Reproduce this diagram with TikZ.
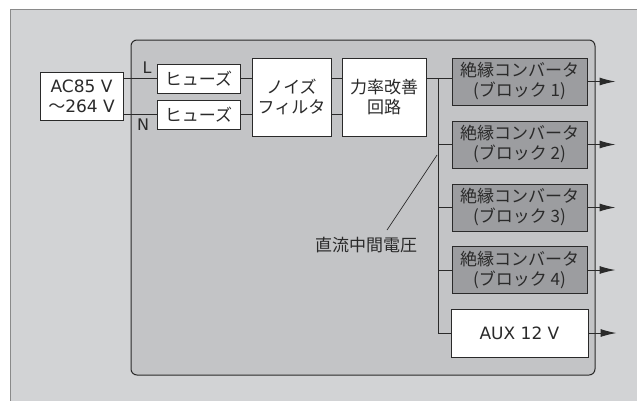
\documentclass[tikz,border=0pt]{standalone}
\usepackage{fontspec}
\setmainfont{Noto Sans CJK JP}
\newfontfamily\lat{DejaVu Sans}
\usetikzlibrary{arrows.meta}
\definecolor{outerbg}{HTML}{D2D3D5}
\definecolor{innerbg}{HTML}{C3C4C6}
\definecolor{convbg}{HTML}{9C9DA0}
\definecolor{ink}{HTML}{2A2A2A}
\definecolor{outerline}{HTML}{8A8A8A}
\tikzset{
  blk/.style={draw=ink, line width=1pt, fill=white, inner sep=0pt, align=center, text=ink,
    font=\fontsize{17}{20}\selectfont},
  conv/.style={blk, fill=convbg, minimum width=135pt, minimum height=47pt},
  wire/.style={draw=ink, line width=1pt},
  outarrow/.style={wire, -{Latex[length=16pt,width=8pt]}},
  lbl/.style={text=ink, inner sep=0pt, font=\fontsize{17}{20}\selectfont},
}
\begin{document}
\begin{tikzpicture}[x=1pt,y=-1pt]
\useasboundingbox (0,0) rectangle (637,400);
\clip (0,0) rectangle (637,400);
\fill[white] (0,0) rectangle (637,400);
\draw[fill=outerbg, draw=outerline, line width=1pt] (10,9) rectangle (650,410);
\draw[fill=innerbg, draw=ink, line width=1pt, rounded corners=6pt] (131,40) rectangle (595,375);

\node[blk, minimum width=83pt, minimum height=48pt] (ac) at (81.5,96) {{\lat\fontsize{17}{20}\selectfont AC85 V}\\〜{\lat\fontsize{17}{20}\selectfont 264 V}};
\node[blk, minimum width=83pt, minimum height=29pt] (fL) at (198.5,78.5) {ヒューズ};
\node[blk, minimum width=83pt, minimum height=29pt] (fN) at (198.5,114.5) {ヒューズ};
\node[blk, minimum width=79pt, minimum height=78pt] (nf) at (291.5,97) {ノイズ\\フィルタ};
\node[blk, minimum width=84pt, minimum height=78pt] (pfc) at (384,97) {力率改善\\回路};
\node[conv] (c1) at (519.5,81.5) {絶縁コンバータ\\(ブロック 1)};
\node[conv] (c2) at (519.5,144.5) {絶縁コンバータ\\(ブロック 2)};
\node[conv] (c3) at (519.5,207.5) {絶縁コンバータ\\(ブロック 3)};
\node[conv] (c4) at (519.5,270) {絶縁コンバータ\\(ブロック 4)};
\node[blk, minimum width=137pt, minimum height=48pt] (aux) at (519.5,333) {\lat\fontsize{17}{20}\selectfont AUX 12 V};

\node[lbl] (Ll) at (147,68) {\lat\fontsize{16}{20}\selectfont L};
\node[lbl] (Nl) at (143,125) {\lat\fontsize{16}{20}\selectfont N};
\node[lbl] (dc) at (366,245) {直流中間電圧};

% input wires
\draw[wire] (ac.east |- fL.west) -- (fL.west);
\draw[wire] (ac.east |- fN.west) -- (fN.west);
\draw[wire] (fL.east) -- (nf.west |- fL.east);
\draw[wire] (fN.east) -- (nf.west |- fN.east);
\draw[wire] (nf.east |- fL.east) -- (pfc.west |- fL.east);
\draw[wire] (nf.east |- fN.east) -- (pfc.west |- fN.east);

% bus
\coordinate (bus) at (438,78.5);
\draw[wire] (pfc.east |- bus) -- (c1.west |- bus);
\draw[wire] (bus) |- (aux.west);
\draw[wire] (bus |- c2.west) -- (c2.west);
\draw[wire] (bus |- c3.west) -- (c3.west);
\draw[wire] (bus |- c4.west) -- (c4.west);

% outputs
\foreach \n in {c1,c2,c3,c4,aux}{
  \coordinate (o\n) at ([xshift=28pt]\n.east);
  \draw[outarrow] (\n.east) -- (o\n);
}

% annotation
\coordinate (ann) at (437,155);
\coordinate (annend) at (387,230);
\draw[draw=ink, line width=0.7pt] (ann) -- (annend);
\end{tikzpicture}
\end{document}
